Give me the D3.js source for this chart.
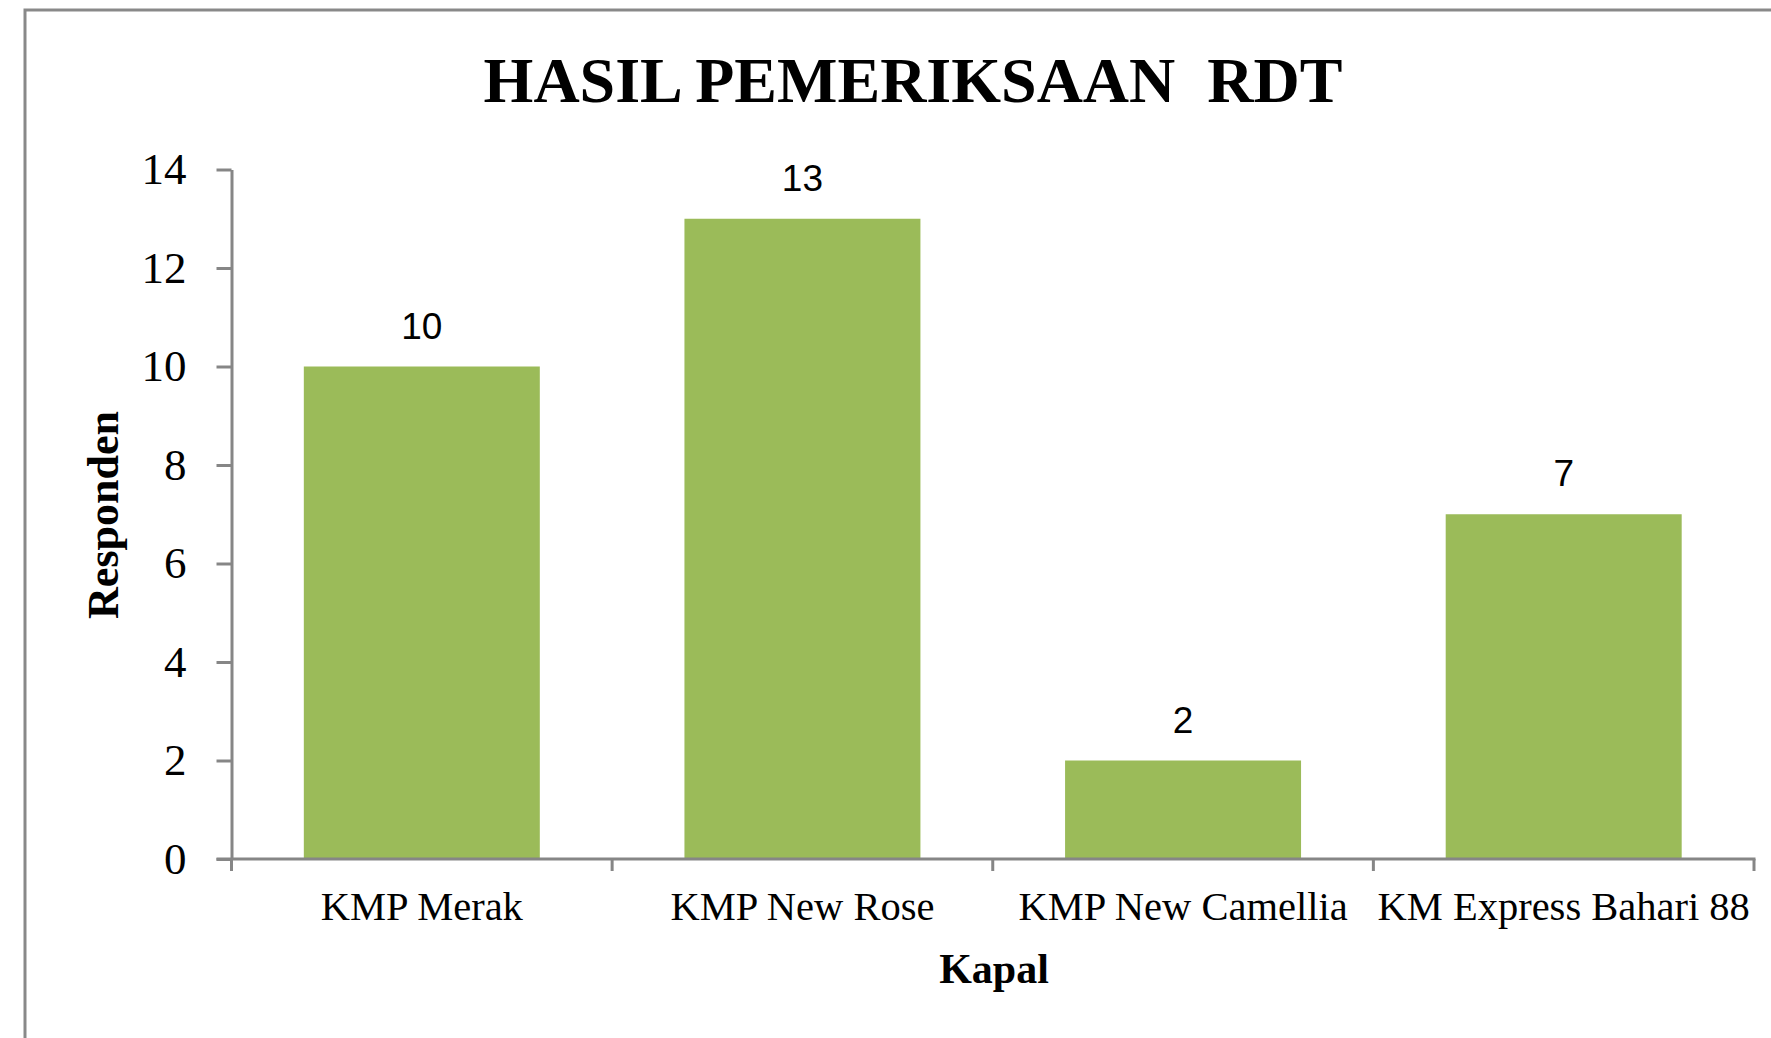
<!DOCTYPE html>
<html>
<head>
<meta charset="utf-8">
<script src="https://cdn.jsdelivr.net/npm/d3@7"></script>
<style>
  html, body { margin: 0; padding: 0; background: #fff; }
  svg { display: block; }
</style>
</head>
<body>
<svg id="chart" width="1771" height="1038"></svg>
<script>
const categories = ["KMP Merak", "KMP New Rose", "KMP New Camellia", "KM Express Bahari 88"];
const values = [10, 13, 2, 7];
const yTicks = [0, 2, 4, 6, 8, 10, 12, 14];
const titleText = "HASIL PEMERIKSAAN  RDT";
const xTitle = "Kapal";
const yTitle = "Responden";

const svg = d3.select("#chart");
const W = 1771, H = 1038;
const axisColor = "#868686";
const barColor = "#9BBB59";

// chart border (extends past the right and bottom edges)
svg.append("rect")
  .attr("x", 25).attr("y", 10)
  .attr("width", W).attr("height", H)
  .attr("fill", "#fff")
  .attr("stroke", "#898989")
  .attr("stroke-width", 3);

const plot = { left: 231.5, right: 1754, top: 169.5, bottom: 859 };

const x = d3.scaleBand()
  .domain(categories)
  .range([plot.left, plot.right])
  .paddingInner(0.38)
  .paddingOuter(0.19);

const y = d3.scaleLinear()
  .domain([0, 14])
  .range([plot.bottom, plot.top]);

// bars
svg.append("g").selectAll("rect")
  .data(categories)
  .join("rect")
  .attr("x", d => x(d))
  .attr("width", x.bandwidth())
  .attr("y", (d, i) => y(values[i]))
  .attr("height", (d, i) => y(0) - y(values[i]))
  .attr("fill", barColor);

// value labels
svg.append("g").selectAll("text")
  .data(categories)
  .join("text")
  .attr("x", d => x(d) + x.bandwidth() / 2)
  .attr("y", (d, i) => y(values[i]) - 28)
  .attr("text-anchor", "middle")
  .attr("font-family", "'Liberation Sans', Arial, sans-serif")
  .attr("font-size", 37)
  .attr("fill", "#000")
  .text((d, i) => values[i]);

// y axis
const yAxis = svg.append("g")
  .attr("transform", `translate(${plot.left},0)`)
  .call(d3.axisLeft(y).tickValues(yTicks).tickSize(15).tickSizeOuter(0).tickPadding(30));
yAxis.select(".domain").attr("stroke", axisColor).attr("stroke-width", 3);
yAxis.selectAll(".tick line").attr("stroke", axisColor).attr("stroke-width", 3);
yAxis.selectAll(".tick text")
  .attr("font-family", "'Liberation Serif', 'Times New Roman', serif")
  .attr("font-size", 45)
  .attr("fill", "#000");

// x axis: line with ticks at category boundaries
const step = x.step();
const boundaries = categories.map(d => x(d) - x.paddingInner() * step / 2);
boundaries.push(plot.right);
const xAxis = svg.append("g");
xAxis.append("line")
  .attr("x1", plot.left - 15).attr("x2", plot.right + 1.5)
  .attr("y1", y(0)).attr("y2", y(0))
  .attr("stroke", axisColor).attr("stroke-width", 3);
xAxis.selectAll("line.xt")
  .data(boundaries)
  .join("line")
  .attr("class", "xt")
  .attr("x1", d => d).attr("x2", d => d)
  .attr("y1", y(0)).attr("y2", y(0) + 12)
  .attr("stroke", axisColor).attr("stroke-width", 3);
xAxis.selectAll("text")
  .data(categories)
  .join("text")
  .attr("x", d => x(d) + x.bandwidth() / 2)
  .attr("y", 920)
  .attr("text-anchor", "middle")
  .attr("font-family", "'Liberation Serif', 'Times New Roman', serif")
  .attr("font-size", 40.5)
  .attr("fill", "#000")
  .text(d => d);

// title
svg.append("text")
  .attr("x", 913).attr("y", 102)
  .attr("text-anchor", "middle")
  .attr("font-family", "'Liberation Serif', 'Times New Roman', serif")
  .attr("font-weight", "bold")
  .attr("font-size", 64)
  .attr("fill", "#000")
  .style("white-space", "pre")
  .text(titleText);

// axis titles
svg.append("text")
  .attr("x", 994).attr("y", 983)
  .attr("text-anchor", "middle")
  .attr("font-family", "'Liberation Serif', 'Times New Roman', serif")
  .attr("font-weight", "bold")
  .attr("font-size", 42)
  .attr("fill", "#000")
  .text(xTitle);

svg.append("text")
  .attr("transform", "translate(118,515) rotate(-90)")
  .attr("text-anchor", "middle")
  .attr("font-family", "'Liberation Serif', 'Times New Roman', serif")
  .attr("font-weight", "bold")
  .attr("font-size", 44)
  .attr("fill", "#000")
  .text(yTitle);
</script>
</body>
</html>
